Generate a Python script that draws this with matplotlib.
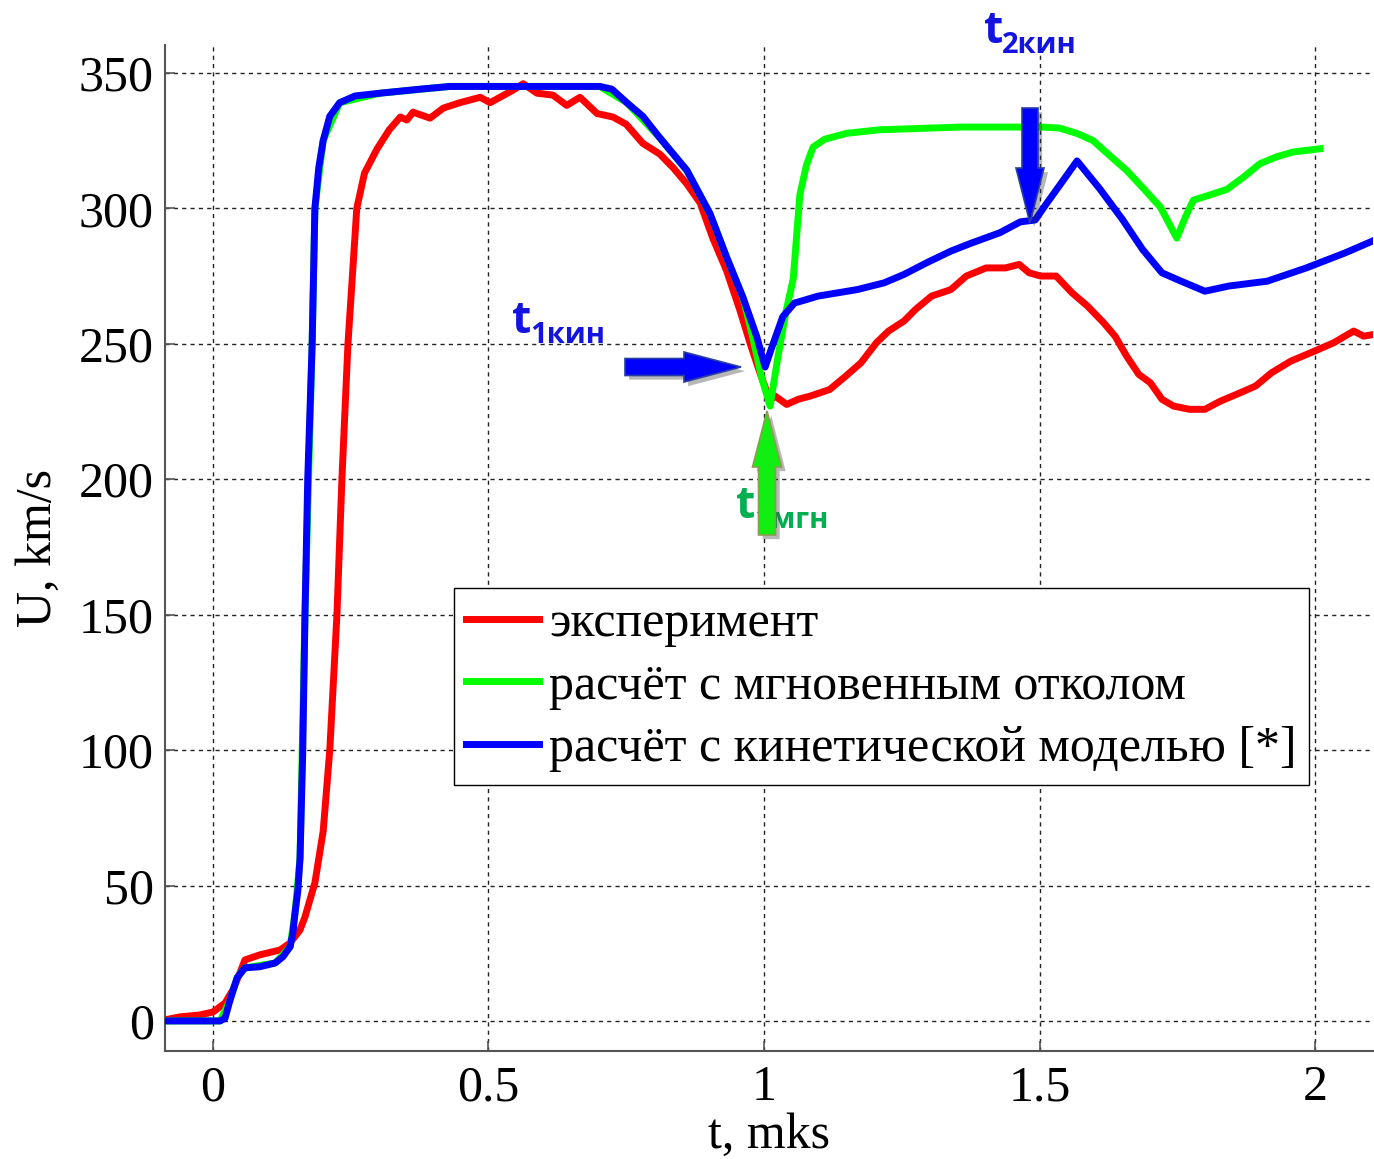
import matplotlib
matplotlib.use("Agg")
import matplotlib.pyplot as plt
import matplotlib.transforms as mtransforms
import matplotlib.patheffects as pe
from matplotlib.patches import FancyArrow

# ---------------- data ----------------
t_exp = [-0.087, -0.06, -0.024, 0.0, 0.022, 0.036, 0.049, 0.058, 0.085, 0.122, 0.140, 0.158,
         0.167, 0.176, 0.185, 0.200, 0.212, 0.225, 0.234, 0.245, 0.261, 0.275, 0.298, 0.320,
         0.340, 0.352, 0.363, 0.394, 0.418, 0.448, 0.485, 0.503, 0.545, 0.563, 0.588, 0.617,
         0.642, 0.666, 0.697, 0.726, 0.750, 0.780, 0.811, 0.835, 0.860, 0.884, 0.907, 0.932,
         0.956, 0.975, 0.993, 1.011, 1.020, 1.041, 1.062, 1.084, 1.119, 1.148, 1.176, 1.204,
         1.226, 1.254, 1.275, 1.304, 1.339, 1.367, 1.403, 1.438, 1.463, 1.481, 1.502, 1.530,
         1.559, 1.587, 1.616, 1.637, 1.658, 1.680, 1.701, 1.722, 1.743, 1.772, 1.800, 1.828,
         1.864, 1.892, 1.921, 1.956, 1.999, 2.034, 2.070, 2.088, 2.105]
u_exp = [0.4, 1.5, 2.2, 3.3, 6.6, 11.4, 17.7, 22.5, 24.4, 26.2, 28.8, 33.6,
         38.4, 44.7, 51, 70, 100, 150, 200, 250, 300, 313, 322, 329,
         333.7, 332.6, 335.5, 333.3, 337, 339, 341, 339, 343.7, 346, 342.5, 341.8,
         338, 341, 335, 333.7, 331, 324, 320, 315, 309, 302, 289, 277,
         262.5, 250, 239, 229, 230.7, 227.6, 229.5, 230.7, 233.1, 238, 243, 250.4,
         254.7, 258.4, 262.7, 267.6, 270, 275, 278, 278, 279.3, 276.2, 275, 275,
         268.8, 263.9, 257.8, 252.8, 245.4, 238.7, 235.6, 229.5, 227, 225.8, 225.8, 228.8,
         231.9, 234.4, 239.3, 243.6, 247.3, 250.4, 254.7, 252.8, 253.4]

t_inst = [-0.087, 0.013, 0.031, 0.044, 0.058, 0.113, 0.140, 0.149, 0.158, 0.167, 0.180, 0.185,
          0.200, 0.230, 0.303, 0.430, 0.702, 0.751, 0.811, 0.860, 0.902, 0.932, 0.962, 0.980,
          0.995, 1.011, 1.025, 1.040, 1.053, 1.065, 1.077, 1.089, 1.110, 1.150, 1.210, 1.356,
          1.506, 1.537, 1.570, 1.597, 1.630, 1.658, 1.690, 1.719, 1.749, 1.765, 1.779, 1.810,
          1.840, 1.870, 1.900, 1.930, 1.960, 2.009]
u_inst = [0, 0, 7.7, 16, 19.6, 21.4, 27.4, 40, 60, 150, 250, 300,
          325, 339, 342.5, 345, 345, 339, 326, 314, 298, 282, 267, 252,
          238, 227, 245, 262, 274, 305, 316, 322.6, 325.5, 327.7, 329, 330,
          330, 329.6, 327.5, 325, 319, 314, 307, 300.5, 289, 297, 303, 305,
          307, 311.5, 316.5, 319, 320.8, 322]

t_kin = [-0.087, 0.013, 0.022, 0.031, 0.044, 0.058, 0.085, 0.113, 0.127, 0.140, 0.145, 0.149,
         0.154, 0.158, 0.163, 0.167, 0.172, 0.180, 0.185, 0.192, 0.200, 0.212, 0.230, 0.258,
         0.303, 0.376, 0.430, 0.702, 0.724, 0.751, 0.780, 0.811, 0.860, 0.902, 0.932, 0.962,
         0.987, 1.002, 1.013, 1.034, 1.055, 1.098, 1.169, 1.218, 1.254, 1.296, 1.339, 1.374,
         1.428, 1.465, 1.492, 1.510, 1.568, 1.610, 1.650, 1.687, 1.722, 1.758, 1.800, 1.843,
         1.913, 1.984, 2.055, 2.105]
u_kin = [0, 0, 1, 7.7, 16, 19.6, 20, 21.4, 23.7, 27.4, 32.4, 40,
         48, 60, 100, 150, 200, 250, 300, 315, 325, 334, 339, 341.5,
         342.5, 344, 345, 345, 344, 339, 334, 326, 314, 298, 282, 267,
         252.5, 241.4, 248, 260, 265, 267.6, 270, 272.5, 275.6, 280, 284.2, 287,
         291, 295, 295.7, 301, 317.5, 307, 296, 284.8, 276.2, 273, 269.4, 271.3,
         273.1, 278, 283.6, 288]

labels = ["эксперимент", "расчёт с мгновенным отколом", "расчёт с кинетической моделью [*]"]
x_ticks = [0, 0.5, 1, 1.5, 2]
x_ticklabels = ["0", "0.5", "1", "1.5", "2"]
y_ticks = [0, 50, 100, 150, 200, 250, 300, 350]

# ---------------- figure ----------------
W, H = 1374, 1159
fig = plt.figure(figsize=(W / 100, H / 100), dpi=100)
ax = fig.add_axes([165 / W, 1 - 1051 / H, 1208 / W, 1006 / H])

serif = "Liberation Serif"
lw = 5
ax.plot(t_exp, u_exp, color="#ff0000", lw=lw, label=labels[0], zorder=3, solid_joinstyle="round")
ax.plot(t_inst, u_inst, color="#00ff00", lw=lw, label=labels[1], zorder=4, solid_joinstyle="round")
ax.plot(t_kin, u_kin, color="#0000ff", lw=lw, label=labels[2], zorder=5, solid_joinstyle="round")

ax.set_xlim(-0.087, 2.105)
ax.set_ylim(-11.1, 360.3)
ax.set_xticks(x_ticks)
ax.set_xticklabels(x_ticklabels)
ax.set_yticks(y_ticks)

for s in ["top", "right"]:
    ax.spines[s].set_visible(False)
for s in ["left", "bottom"]:
    ax.spines[s].set_color("#555555")
    ax.spines[s].set_linewidth(1.5)

ax.tick_params(direction="in", length=7, width=1.2, color="#555555",
               labelsize=36, pad=8)
ax.tick_params(axis="x", pad=10)
for lab in ax.get_xticklabels() + ax.get_yticklabels():
    lab.set_fontfamily(serif)

ax.grid(True, color="#222222", linestyle=(0, (3, 3)), linewidth=1.0)
ax.set_axisbelow(True)

ax.set_xlabel("t, mks", fontsize=36, fontfamily=serif, labelpad=1)
ax.set_ylabel("U, km/s", fontsize=36, fontfamily=serif, labelpad=12)

leg = ax.legend(loc="upper left", bbox_to_anchor=(0.2392, 0.4602), borderaxespad=0,
                prop={"family": serif, "size": 36}, frameon=True, fancybox=False,
                handlelength=1.45, handletextpad=0.2, labelspacing=0.32,
                borderpad=0.25)
leg.get_frame().set_edgecolor("#000000")
leg.get_frame().set_linewidth(1.0)
leg.get_frame().set_alpha(1)
for line in leg.get_lines():
    line.set_linewidth(5)

# ---------------- annotations (pixel coords, origin top-left) ----------------
ident = mtransforms.IdentityTransform()


def py(y):
    return H - y


def arrow(x0, y0, x1, y1, width, head_w, head_l, face, edge):
    a = FancyArrow(x0, py(y0), x1 - x0, py(y1) - py(y0), width=width, head_width=head_w,
                   head_length=head_l, length_includes_head=True, transform=ident,
                   facecolor=face, edgecolor=edge, linewidth=1.2, zorder=20)
    a.set_path_effects([pe.SimplePatchShadow(offset=(3, -3), shadow_rgbFace="#333333", alpha=0.35),
                        pe.Normal()])
    fig.add_artist(a)


sans = "Open Sans"
blue_txt = "#1414e0"
green_txt = "#00b050"


def label(x, y, main, sub, color):
    fig.text(x, py(y), main, transform=ident, fontsize=32, fontweight="bold",
             fontfamily=sans, color=color, ha="left", va="baseline", zorder=15)
    fig.text(x + 18, py(y + 10), sub, transform=ident, fontsize=21, fontweight="bold",
             fontfamily=sans, color=color, ha="left", va="baseline", zorder=15)


label(512, 333, "t", "1кин", blue_txt)
label(984, 43, "t", "2кин", blue_txt)
label(736, 518, "t", "1мгн", green_txt)

arrow(625, 367, 741, 367, 17, 30, 57, "#0000ff", "#2a3fa0")
arrow(1030, 108, 1030, 223, 16, 28, 55, "#0000ff", "#2a3fa0")
arrow(767, 535, 767, 411, 17, 29, 56, "#11ee11", "#8c9c52")

fig.savefig("out.png", dpi=100)
